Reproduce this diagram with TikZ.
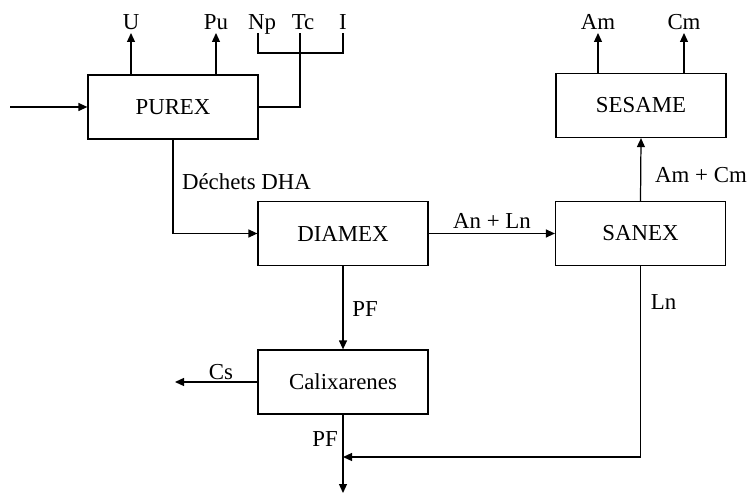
\documentclass[tikz,border=0pt]{standalone}
\usepackage{fontspec}
\setmainfont{Liberation Serif}
\usetikzlibrary{arrows.meta}
\tikzset{
  procbox/.style={draw, line width=0.7pt, minimum width=3.4cm, minimum height=1.28cm},
  prod/.style={anchor=south, text depth=0pt, inner ysep=2pt},
  flow/.style={line width=0.7pt, -{Triangle[length=1.8mm, width=1.6mm]}},
  link/.style={line width=0.7pt}
}
\begin{document}
\begin{tikzpicture}[font=\fontsize{13}{15}\selectfont]
\useasboundingbox (0,0) rectangle (14.96,9.9);
% process boxes
\node[procbox] (purex) at (3.46,7.76) {PUREX};
\node[procbox] (diamex) at (6.86,5.23) {DIAMEX};
\node[procbox] (sanex) at (12.81,5.23) {SANEX};
\node[procbox] (sesame) at (12.82,7.79) {SESAME};
\node[procbox] (calix) at (6.86,2.26) {Calixarenes};
% products
\node[prod] (u) at (2.62,9.24) {U};
\node[prod] (pu) at (4.32,9.24) {Pu};
\node[prod] (np) at (5.24,9.24) {Np};
\node[prod] (tc) at (6.06,9.24) {Tc};
\node[prod] (i) at (6.86,9.24) {I};
\node[prod] (am) at (11.96,9.24) {Am};
\node[prod] (cm) at (13.68,9.24) {Cm};
% flow labels
\node (dha) at (4.93,6.26) {Déchets DHA};
\node (anln) at (9.84,5.48) {An + Ln};
\node (amcm) at (14.02,6.4) {Am + Cm};
\node (ln) at (13.27,3.86) {Ln};
\node (pf1) at (7.3,3.72) {PF};
\node (pf2) at (6.5,1.12) {PF};
\node (cs) at (4.42,2.46) {Cs};
% free ends
\coordinate (feed) at (0.2,7.76);
\coordinate (join) at (6.0,8.84);
\coordinate (merge) at (6.86,0.76);
\coordinate (out) at (6.86,0.04);
\coordinate (csout) at (3.5,2.26);
% connectors
\draw[flow] (feed) -- (purex.west);
\draw[flow] (u.south |- purex.north) -- (u.south);
\draw[flow] (pu.south |- purex.north) -- (pu.south);
\draw[link] (purex.east) -| (join |- tc.south);
\draw[link] ([xshift=-0.8mm]np.south) |- (join) -| (i.south);
\draw[flow] (purex.south) |- (diamex.west);
\draw[flow] (diamex.east) -- (sanex.west);
\draw[flow] (sanex.north) -- (sesame.south);
\draw[flow] (am.south |- sesame.north) -- (am.south);
\draw[flow] (cm.south |- sesame.north) -- (cm.south);
\draw[flow] (diamex.south) -- (calix.north);
\draw[flow] (calix.west) -- (csout);
\draw[flow] (sanex.south) |- (merge);
\draw[flow] (calix.south) -- (out);
\end{tikzpicture}
\end{document}
